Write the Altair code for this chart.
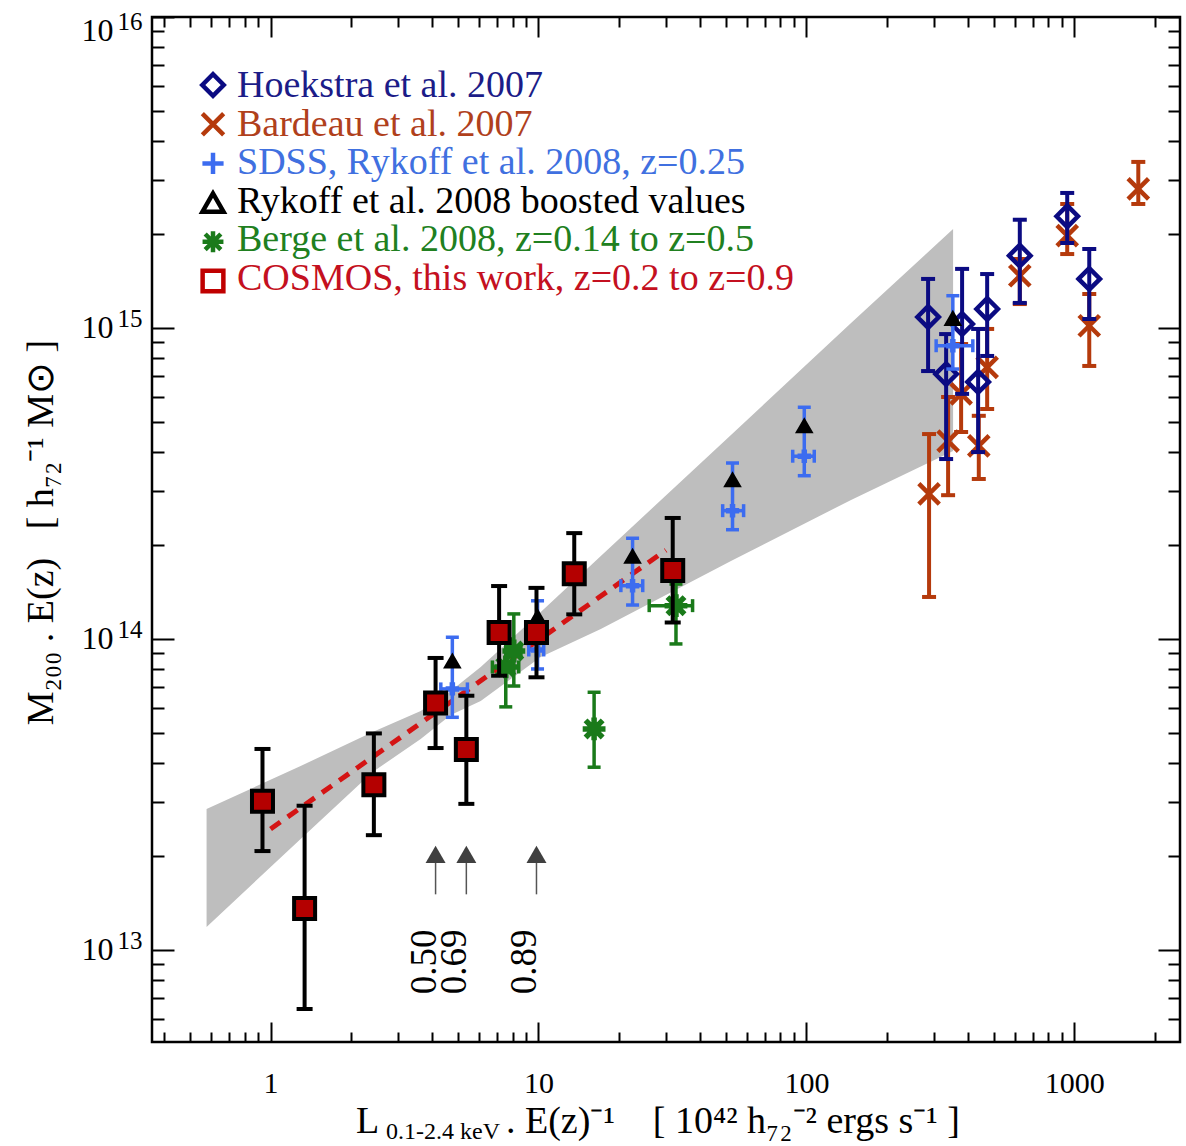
import json
import altair as alt
import pandas as pd

FONT = "Liberation Serif"
W, H = 1028, 1025
XDOM = [0.361, 2480]
YDOM = [5.06e12, 1.0e16]
NB = "\u00a0"

# ---------------- axis ticks / labels ----------------
x_major = [1, 10, 100, 1000]
x_major_labels = ["1", "10", "100", "1000"]
x_minor = [0.4, 0.5, 0.6, 0.7, 0.8, 0.9,
           2, 3, 4, 5, 6, 7, 8, 9,
           20, 30, 40, 50, 60, 70, 80, 90,
           200, 300, 400, 500, 600, 700, 800, 900, 2000]
y_major = [1e13, 1e14, 1e15, 1e16]
y_major_inner = [1e13, 1e14, 1e15]
y_major_top = [1e16]
y_major_base = ["10", "10", "10", "10"]
y_major_exp = ["13", "14", "15", "16"]
y_minor = [6e12, 7e12, 8e12, 9e12,
           2e13, 3e13, 4e13, 5e13, 6e13, 7e13, 8e13, 9e13,
           2e14, 3e14, 4e14, 5e14, 6e14, 7e14, 8e14, 9e14,
           2e15, 3e15, 4e15, 5e15, 6e15, 7e15, 8e15, 9e15]

x_title_main = "L"
x_title_sub = "0.1-2.4 keV"
x_title_rest = ". E(z)\u207b\u00b9" + NB * 4 + "[ 10\u2074\u00b2 h\u2087\u2082\u207b\u00b2 ergs s\u207b\u00b9 ]"
y_title = "M\u2082\u2080\u2080 . E(z)" + NB * 3 + "[ h\u2087\u2082\u207b\u00b9 M\u2299 ]"

# ---------------- data ----------------
# COSMOS, this work
cos_x = [0.933, 1.34, 2.43, 4.13, 5.38, 7.13, 9.83, 13.6, 31.7]
cos_y = [3.01e13, 1.36e13, 3.40e13, 6.23e13, 4.41e13, 1.05e14, 1.05e14, 1.62e14, 1.66e14]
cos_lo = [2.08e13, 6.46e12, 2.34e13, 4.46e13, 2.95e13, 7.62e13, 7.53e13, 1.20e14, 1.13e14]
cos_hi = [4.43e13, 2.91e13, 4.97e13, 8.69e13, 6.57e13, 1.48e14, 1.46e14, 2.19e14, 2.45e14]

# best-fit relation (dashed)
fit_x = [1.0, 29.9]
fit_y = [2.45e13, 1.93e14]

# grey band
band_x = [0.577, 1.295, 2.405, 3.634, 4.704, 6.087, 10.2, 17.09, 52.3, 146.8, 352.8]
band_hi = [2.84e13, 3.905e13, 5.02e13, 5.87e13, 6.80e13, 8.13e13, 1.221e14, 1.849e14, 4.53e14, 1.038e15, 2.08e15]
band_lo = [1.186e13, 2.275e13, 3.735e13, 4.77e13, 5.70e13, 6.32e13, 8.75e13, 1.077e14, 1.781e14, 2.80e14, 4.02e14]

# SDSS, Rykoff et al. 2008
sdss_x = [4.77, 9.92, 22.45, 53.0, 98.2, 352]
sdss_y = [6.91e13, 9.22e13, 1.484e14, 2.586e14, 3.87e14, 8.77e14]
sdss_lo = [5.60e13, 8.01e13, 1.286e14, 2.246e14, 3.35e14, 7.38e14]
sdss_hi = [1.013e14, 1.327e14, 2.108e14, 3.68e14, 5.56e14, 1.27e15]
sdss_xlo = [4.32, 9.2, 20.3, 48.7, 88.9, 305]
sdss_xhi = [5.43, 10.46, 24.5, 58.3, 107, 418]

# Rykoff boosted values
ryk_x = [4.77, 9.92, 22.45, 53.0, 98.2, 352]
ryk_y = [8.5e13, 1.18e14, 1.845e14, 3.25e14, 4.85e14, 1.074e15]

# Berge et al. 2008
berge_x = [7.55, 8.09, 16.13, 32.6]
berge_y = [8.13e13, 9.15e13, 5.14e13, 1.28e14]
berge_lo = [6.05e13, 7.06e13, 3.87e13, 9.64e13]
berge_hi = [1.0e14, 1.204e14, 6.74e13, 1.502e14]
berge_xlo = [6.73, 7.6, 15.6, 25.9]
berge_xhi = [8.44, 8.6, 16.7, 37.6]

# Hoekstra et al. 2007
hoek_x = [284.6, 332.3, 381.2, 472.8, 437.5, 625.9, 940.8, 1137]
hoek_y = [1.085e15, 7.11e14, 1.03e15, 1.151e15, 6.71e14, 1.708e15, 2.287e15, 1.438e15]
hoek_lo = [7.27e14, 3.79e14, 6.14e14, 8.13e14, 3.99e14, 1.204e15, 1.876e15, 1.069e15]
hoek_hi = [1.438e15, 9.56e14, 1.549e15, 1.491e15, 9.93e14, 2.229e15, 2.718e15, 1.795e15]

# Bardeau et al. 2007
bard_x = [287, 338, 378, 440, 472.8, 625.9, 940.8, 1137, 1733]
bard_y = [2.93e14, 4.33e14, 6.14e14, 4.18e14, 7.47e14, 1.472e15, 1.981e15, 1.017e15, 2.80e15]
bard_lo = [1.365e14, 2.90e14, 4.63e14, 3.27e14, 5.49e14, 1.194e15, 1.729e15, 7.55e14, 2.505e15]
bard_hi = [4.56e14, 6.0e14, 8.88e14, 5.22e14, 9.93e14, 1.667e15, 2.505e15, 1.286e15, 3.42e15]

# redshift arrows
arrow_x = [4.13, 5.38, 9.83]
arrow_head = [2.03e13, 2.03e13, 2.03e13]
arrow_tail = [1.51e13, 1.51e13, 1.51e13]
arrow_labels = ["0.50", "0.69", "0.89"]
arrow_label_y = [9.15e12, 9.15e12, 9.15e12]

# legend
legend_labels = ["Hoekstra et al. 2007", "Bardeau et al. 2007", "SDSS, Rykoff et al. 2008, z=0.25",
                 "Rykoff et al. 2008 boosted values", "Berge et al. 2008, z=0.14 to z=0.5",
                 "COSMOS, this work, z=0.2 to z=0.9"]
legend_text_colors = ["#1c1c88", "#b0401c", "#4070e0", "#000000", "#208020", "#c41020"]
legend_marker_colors = ["#0b0b82", "#b53a0c", "#3c6cf0", "#000000", "#1a7a1a", "#c00000"]
legend_marker_widths = [4.5, 4.5, 5.5, 4.5, 7, 4.5]
legend_marker_sizes = [460, 430, 430, 430, 560, 441]

C_HOEK = "#0b0b82"
C_BARD = "#b53a0c"
C_SDSS = "#3c6cf0"
C_BERGE = "#1a7a1a"
C_COS = "#b40000"

P_X = "M-1,-1L1,1M-1,1L1,-1"
P_PLUS = "M-1,0L1,0M0,-1L0,1"
P_AST = "M-1,0L1,0M0,-1L0,1M-0.75,-0.75L0.75,0.75M-0.75,0.75L0.75,-0.75"
legend_shapes = ["diamond", P_X, P_PLUS, "triangle-up", P_AST, "square"]


def xs():
    return alt.Scale(type="log", domain=XDOM, nice=False)


def ys():
    return alt.Scale(type="log", domain=YDOM, nice=False)


def X(f):
    return alt.X(f + ":Q", scale=xs(), axis=None)


def Y(f):
    return alt.Y(f + ":Q", scale=ys(), axis=None)


dummy = pd.DataFrame({"x": [1.0], "y": [1e14]})


def axis_layer(xaxis, yaxis):
    return alt.Chart(dummy).mark_point(opacity=0).encode(
        x=alt.X("x:Q", scale=xs(), axis=xaxis),
        y=alt.Y("y:Q", scale=ys(), axis=yaxis),
    )


def tick_axis(orient, offset, values, size):
    return alt.Axis(orient=orient, offset=offset, values=values, labels=False, ticks=True,
                    tickSize=size, tickWidth=2, tickColor="black", domain=False,
                    grid=False, title=None)


def idx_expr(labels, base):
    return json.dumps(labels) + "[round(log(datum.value)/LN10)-%d]" % base


def ylabel_axis(values, labels, size, pad, off, **kw):
    return alt.Axis(orient="left", offset=0, values=values, labelExpr=idx_expr(labels, 13),
                    ticks=False, tickSize=0, domain=False, grid=False, labelFont=FONT,
                    labelFontSize=size, labelColor="black", labelPadding=pad,
                    labelBaseline="middle", labelOffset=off, labelFlush=False,
                    labelOverlap=False, **kw)


x_label_layer = axis_layer(
    alt.Axis(orient="bottom", offset=0, values=x_major, labelExpr=idx_expr(x_major_labels, 0),
             ticks=False, tickSize=0, domain=False, grid=False, labelFont=FONT, labelFontSize=30,
             labelColor="black", labelPadding=50, labelBaseline="alphabetic",
             labelFlush=False, labelOverlap=False, title=None),
    ylabel_axis(y_major_inner, y_major_base, 32, 39, 0,
                title=y_title, titleFont=FONT, titleFontSize=38, titleFontWeight="normal",
                titleColor="black", titleX=-100, titleY=515, titleAngle=270,
                titleAlign="center", titleBaseline="alphabetic"),
)
y_label_layers = [
    axis_layer(None, ylabel_axis(y_major_top, y_major_base, 32, 39, 13, title=None)),
    axis_layer(None, ylabel_axis(y_major_inner, y_major_exp, 25, 10, -9, title=None)),
    axis_layer(None, ylabel_axis(y_major_top, y_major_exp, 25, 10, 4, title=None)),
]

tick_layers = [
    axis_layer(tick_axis("top", -H, x_major, 20), tick_axis("right", -W, y_major, 22)),
    axis_layer(tick_axis("top", -H, x_minor, 10), tick_axis("right", -W, y_minor, 12)),
    axis_layer(tick_axis("bottom", -H, x_major, 20), tick_axis("left", -W, y_major, 22)),
    axis_layer(tick_axis("bottom", -H, x_minor, 10), tick_axis("left", -W, y_minor, 12)),
]

# x-axis title pieces (placed below the plot)
title_df = pd.DataFrame({"t": [x_title_main, x_title_sub, x_title_rest]})
x_title_layers = [
    alt.Chart(title_df.iloc[[0]]).mark_text(align="left", baseline="alphabetic", font=FONT,
                                            fontSize=38, color="black").encode(
        x=alt.value(204), y=alt.value(1116), text="t:N"),
    alt.Chart(title_df.iloc[[1]]).mark_text(align="left", baseline="alphabetic", font=FONT,
                                            fontSize=24, color="black").encode(
        x=alt.value(234), y=alt.value(1122), text="t:N"),
    alt.Chart(title_df.iloc[[2]]).mark_text(align="left", baseline="alphabetic", font=FONT,
                                            fontSize=38, color="black").encode(
        x=alt.value(354), y=alt.value(1116), text="t:N"),
]


def yerr_layers(df, color, width, cap):
    rule = alt.Chart(df).mark_rule(color=color, strokeWidth=width).encode(
        x=X("x"), y=Y("lo"), y2=alt.Y2("hi:Q"))
    caps = alt.Chart(df).transform_fold(["lo", "hi"], as_=["k", "v"]).mark_tick(
        orient="horizontal", color=color, size=cap, thickness=width, opacity=1).encode(
        x=X("x"), y=Y("v"))
    return [rule, caps]


def xerr_layers(df, color, width, cap):
    rule = alt.Chart(df).mark_rule(color=color, strokeWidth=width).encode(
        x=X("xlo"), x2=alt.X2("xhi:Q"), y=Y("y"))
    caps = alt.Chart(df).transform_fold(["xlo", "xhi"], as_=["k", "v"]).mark_tick(
        orient="vertical", color=color, size=cap, thickness=width, opacity=1).encode(
        x=X("v"), y=Y("y"))
    return [rule, caps]


band_df = pd.DataFrame({"x": band_x, "hi": band_hi, "lo": band_lo})
fit_df = pd.DataFrame({"x": fit_x, "y": fit_y})
cos_df = pd.DataFrame({"x": cos_x, "y": cos_y, "lo": cos_lo, "hi": cos_hi})
sdss_df = pd.DataFrame({"x": sdss_x, "y": sdss_y, "lo": sdss_lo, "hi": sdss_hi,
                        "xlo": sdss_xlo, "xhi": sdss_xhi})
ryk_df = pd.DataFrame({"x": ryk_x, "y": ryk_y})
berge_df = pd.DataFrame({"x": berge_x, "y": berge_y, "lo": berge_lo, "hi": berge_hi,
                         "xlo": berge_xlo, "xhi": berge_xhi})
hoek_df = pd.DataFrame({"x": hoek_x, "y": hoek_y, "lo": hoek_lo, "hi": hoek_hi})
bard_df = pd.DataFrame({"x": bard_x, "y": bard_y, "lo": bard_lo, "hi": bard_hi})
arrow_df = pd.DataFrame({"x": arrow_x, "head": arrow_head, "tail": arrow_tail,
                         "label": arrow_labels, "ly": arrow_label_y})
legend_df = pd.DataFrame({"label": legend_labels, "row": list(range(len(legend_labels)))})

band = alt.Chart(band_df).mark_area(color="#bebebe", opacity=1).encode(
    x=X("x"), y=Y("hi"), y2=alt.Y2("lo:Q"))
fit = alt.Chart(fit_df).mark_line(color="#d41414", strokeWidth=5, strokeDash=[12, 9]).encode(
    x=X("x"), y=Y("y"))

layers = [x_label_layer] + y_label_layers + tick_layers + x_title_layers + [band, fit]

# Bardeau
layers += yerr_layers(bard_df, C_BARD, 4, 14)
layers.append(alt.Chart(bard_df).mark_point(shape=P_X, filled=False, color=C_BARD, size=420,
                                            strokeWidth=4.5, opacity=1).encode(x=X("x"), y=Y("y")))
# Hoekstra
layers += yerr_layers(hoek_df, C_HOEK, 4, 14)
layers.append(alt.Chart(hoek_df).mark_point(shape="diamond", filled=False, color=C_HOEK, size=460,
                                            strokeWidth=4.5, opacity=1).encode(x=X("x"), y=Y("y")))
# SDSS
layers += yerr_layers(sdss_df, C_SDSS, 3.5, 13)
layers += xerr_layers(sdss_df, C_SDSS, 3.5, 13)
layers.append(alt.Chart(sdss_df).mark_point(shape=P_PLUS, filled=False, color=C_SDSS, size=180,
                                            strokeWidth=5.5, opacity=1).encode(x=X("x"), y=Y("y")))
# Rykoff boosted
layers.append(alt.Chart(ryk_df).mark_point(shape="triangle-up", filled=True, color="black",
                                           stroke="black", strokeWidth=2, size=230,
                                           opacity=1).encode(x=X("x"), y=Y("y")))
# Berge
layers += yerr_layers(berge_df, C_BERGE, 3.5, 13)
layers += xerr_layers(berge_df, C_BERGE, 3.5, 13)
layers.append(alt.Chart(berge_df).mark_point(shape=P_AST, filled=False, color=C_BERGE, size=520,
                                             strokeWidth=5.5, opacity=1).encode(x=X("x"), y=Y("y")))
# COSMOS
layers += yerr_layers(cos_df, "black", 4, 16)
layers.append(alt.Chart(cos_df).mark_point(shape="square", filled=True, color=C_COS, fill=C_COS,
                                           stroke="black", strokeWidth=4, size=441,
                                           opacity=1).encode(x=X("x"), y=Y("y")))
# arrows
layers.append(alt.Chart(arrow_df).mark_rule(color="#555555", strokeWidth=1.5).encode(
    x=X("x"), y=Y("tail"), y2=alt.Y2("head:Q")))
layers.append(alt.Chart(arrow_df).mark_point(shape="triangle-up", filled=True, color="#404040",
                                             size=400, opacity=1).encode(x=X("x"), y=Y("head")))
layers.append(alt.Chart(arrow_df).mark_text(angle=270, align="center", baseline="alphabetic",
                                            font=FONT, fontSize=37, color="black").encode(
    x=X("x"), y=Y("ly"), text="label:N"))

# legend
legend_markers = alt.Chart(legend_df).mark_point(filled=False, opacity=1).encode(
    x=alt.value(61),
    y=alt.Y("row:O", scale=alt.Scale(type="point", domain=list(range(6)), range=[68, 264],
                                     padding=0), axis=None),
    shape=alt.Shape("label:N", scale=alt.Scale(domain=legend_labels, range=legend_shapes),
                    legend=None),
    color=alt.Color("label:N", scale=alt.Scale(domain=legend_labels, range=legend_marker_colors),
                    legend=None),
    strokeWidth=alt.StrokeWidth("label:N", scale=alt.Scale(domain=legend_labels,
                                                           range=legend_marker_widths),
                                legend=None),
    size=alt.Size("label:N", scale=alt.Scale(domain=legend_labels, range=legend_marker_sizes),
                  legend=None),
)
legend_text = alt.Chart(legend_df).mark_text(align="left", baseline="alphabetic", font=FONT,
                                             fontSize=38).encode(
    x=alt.value(85),
    y=alt.Y("row:O", scale=alt.Scale(type="point", domain=list(range(6)), range=[80, 273],
                                     padding=0), axis=None),
    text="label:N",
    color=alt.Color("label:N", scale=alt.Scale(domain=legend_labels, range=legend_text_colors),
                    legend=None),
)
layers += [legend_markers, legend_text]

chart = alt.layer(*layers).resolve_scale(
    x="independent", y="independent", shape="independent", color="independent",
    strokeWidth="independent", size="independent"
).properties(
    width=W, height=H,
    autosize=alt.AutoSizeParams(type="none"),
    padding={"left": 152, "top": 17, "right": 6, "bottom": 104},
).configure_view(stroke="black", strokeWidth=2.5)

chart.save("out.html", embed_options={"renderer": "svg", "actions": False})
